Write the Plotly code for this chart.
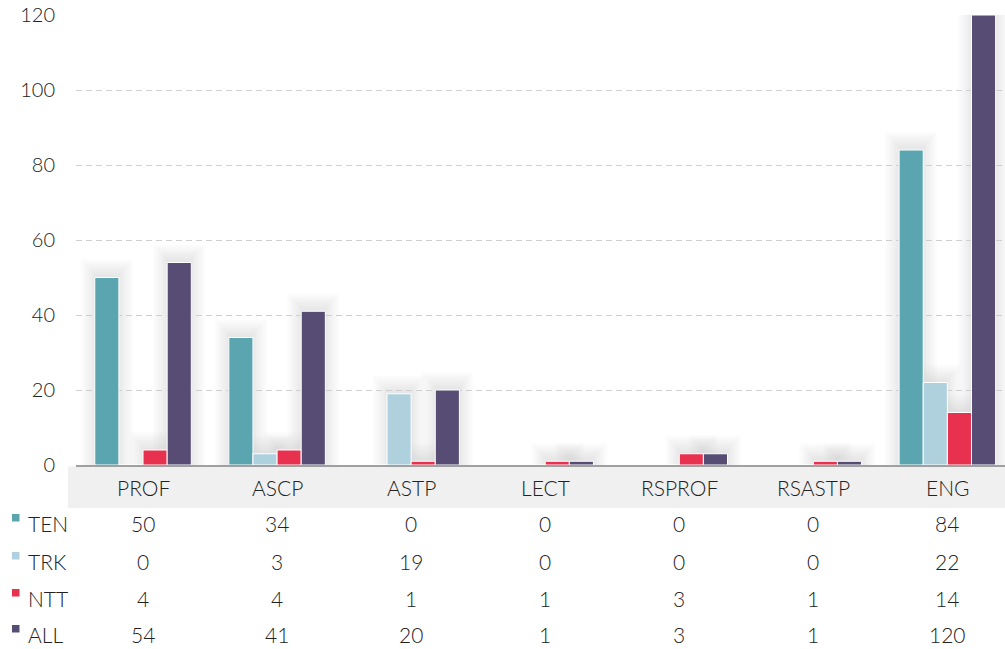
import plotly.graph_objects as go

# Faculty headcounts by rank
categories = ["PROF", "ASCP", "ASTP", "LECT", "RSPROF", "RSASTP", "ENG"]
series_names = ["TEN", "TRK", "NTT", "ALL"]
ten = [50, 34, 0, 0, 0, 0, 84]
trk = [0, 3, 19, 0, 0, 0, 22]
ntt = [4, 4, 1, 1, 3, 1, 14]
all_ = [54, 41, 20, 1, 3, 1, 120]
y_ticks = [0, 20, 40, 60, 80, 100, 120]

series_values = [ten, trk, ntt, all_]
colors = ["#5ba5b0", "#afd1de", "#e8304f", "#564c74"]

W, H = 1005, 649
FONT = "Lato"
TEXT = "#222222"
FS = 20          # axis tick labels
FS_TABLE = 21    # category names and table cells
WEIGHT = 300


def py(p):
    """Convert a pixel row (from the top) to paper y."""
    return 1 - p / H


def px(p):
    return p / W


bar_w = 0.18
offsets = [-0.36, -0.18, 0.0, 0.18]
unit_px = 134.0          # pixels per category
val_px = 450 / 120       # pixels per value unit

fig = go.Figure()

# soft shadow behind each bar: stacked translucent layers (side spread px, top spread px)
shadow_layers = [(14, 18), (12, 16), (10, 14), (8, 12), (6, 10),
                 (4, 8), (3, 6.5), (2, 5), (1, 3.5), (0, 2)]
for vals, off in zip(series_values, offsets):
    xs = [c for c, v in zip(categories, vals) if v > 0]
    vs = [v for v in vals if v > 0]
    for d, h in shadow_layers:
        dd = d / unit_px
        fig.add_trace(go.Bar(
            x=xs, y=[v + h / val_px for v in vs], offset=off - dd, width=bar_w + 2 * dd,
            marker=dict(color="rgba(205,205,205,0.065)", line=dict(width=0)),
            hoverinfo="skip", showlegend=False,
        ))

for name, vals, off, col in zip(series_names, series_values, offsets, colors):
    fig.add_trace(go.Bar(
        x=categories, y=vals, name=name, offset=off, width=bar_w,
        marker=dict(color=col, line=dict(color="white", width=1)),
        showlegend=False,
    ))

fig.update_layout(
    width=W, height=H,
    margin=dict(l=0, r=0, t=0, b=0, autoexpand=False),
    paper_bgcolor="white", plot_bgcolor="white",
    barmode="overlay",
    font=dict(family=FONT, color=TEXT, size=FS, weight=WEIGHT),
    xaxis=dict(
        domain=[px(76), 1], range=[-0.5, 6.43],
        categoryorder="array", categoryarray=categories,
        showticklabels=False, ticks="", showgrid=False,
        showline=True, linecolor="#a0a0a0", linewidth=1.5,
        zeroline=False, fixedrange=True, automargin=False,
    ),
    yaxis=dict(
        domain=[py(465), py(15)], range=[0, 120],
        tickvals=y_ticks, ticks="", ticklabelstandoff=20,
        tickfont=dict(size=FS, color=TEXT, weight=WEIGHT),
        showgrid=True, gridcolor="#cfcfcf", gridwidth=1, griddash="6px,4px",
        zeroline=False, showline=False, fixedrange=True, automargin=False,
    ),
)

# grey band under the axis carrying the category names
fig.add_shape(type="rect", xref="paper", yref="paper",
              x0=px(68), x1=1, y0=py(508), y1=py(466.5),
              fillcolor="#f0f0f0", line=dict(width=0), layer="below")

for c in categories:
    fig.add_annotation(x=c, y=py(487), xref="x", yref="paper", text=c,
                       showarrow=False, font=dict(size=FS_TABLE, color=TEXT, weight=WEIGHT),
                       xanchor="center", yanchor="middle")

# data table below the chart
row_y = [523, 561, 598, 634]
for name, vals, col, ry in zip(series_names, series_values, colors, row_y):
    fig.add_shape(type="rect", xref="paper", yref="paper",
                  x0=px(12), x1=px(19.5), y0=py(ry - 1.5), y1=py(ry - 9),
                  fillcolor=col, line=dict(width=0))
    fig.add_annotation(x=px(26), y=py(ry), xref="paper", yref="paper", text=name,
                       showarrow=False, font=dict(size=FS_TABLE, color=TEXT, weight=WEIGHT),
                       xanchor="left", yanchor="middle")
    for c, v in zip(categories, vals):
        fig.add_annotation(x=c, y=py(ry), xref="x", yref="paper", text=str(v),
                           showarrow=False, font=dict(size=FS_TABLE, color=TEXT, weight=WEIGHT),
                           xanchor="center", yanchor="middle")

fig.write_html("out.html")
